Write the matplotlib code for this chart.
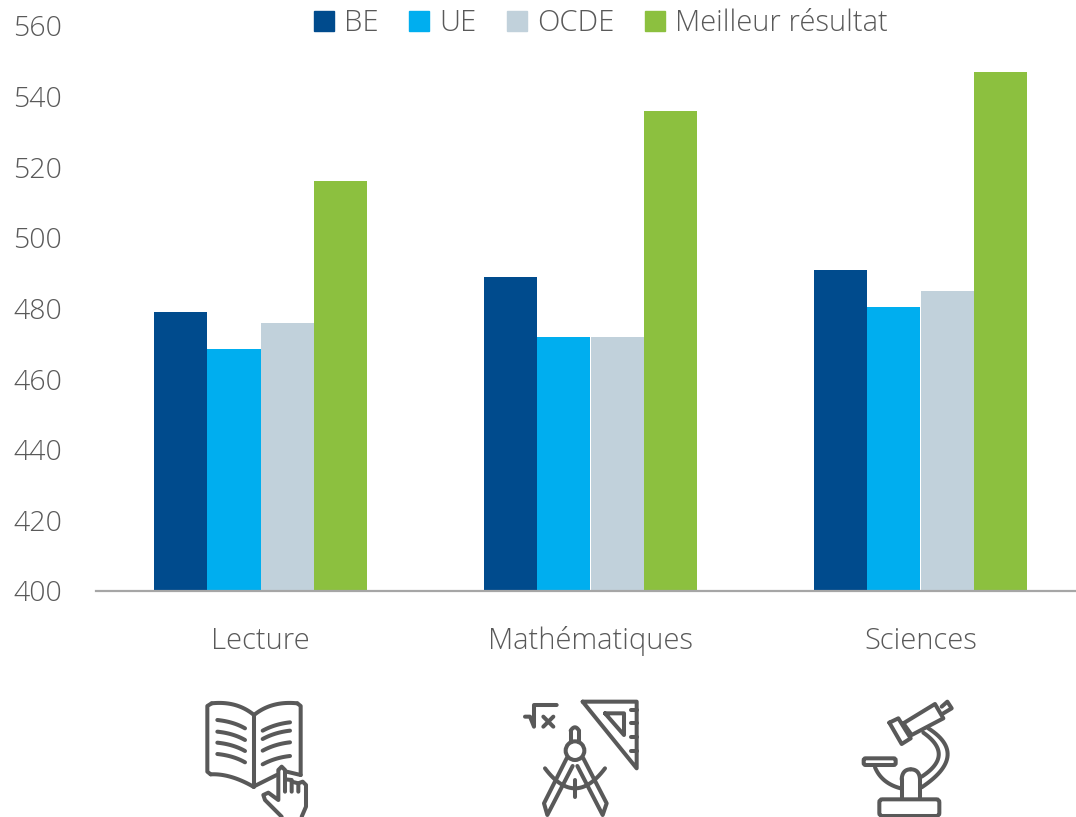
import numpy as np
import matplotlib
matplotlib.use("Agg")
import matplotlib.pyplot as plt
from matplotlib.patches import Circle, FancyBboxPatch, Patch

plt.rcParams['font.family'] = ['Open Sans', 'DejaVu Sans']

categories = ['Lecture', 'Mathématiques', 'Sciences']
be = [479, 489, 491]
ue = [468.5, 472, 480.5]
ocde = [476, 472, 485]
best = [516, 536, 547]
series_names = ['BE', 'UE', 'OCDE', 'Meilleur résultat']
colors = ['#004b8d', '#00aeef', '#c1d1db', '#8cc03f']
grey = '#595959'

W, H = 1076, 817
fig = plt.figure(figsize=(W / 100, H / 100), dpi=100)
ax = fig.add_axes([95.5 / W, 1 - 591 / H, (W - 95.5) / W, 565 / H])

x = np.arange(3)
bw = 0.1615
for i, vals in enumerate([be, ue, ocde, best]):
    ax.bar(x + (i - 1.5) * bw, vals, bw, bottom=0, color=colors[i])

ax.set_ylim(400, 560)
ax.set_xlim(-0.5, (W - 95.5) / 330 - 0.5)
ax.set_yticks(range(400, 561, 20))
ax.set_xticks(x, categories)
ax.tick_params(axis='y', length=0, pad=24, labelsize=20.5, labelcolor=grey)
ax.tick_params(axis='x', length=0, pad=25.3, labelsize=21, labelcolor=grey)
for lab in ax.get_xticklabels() + ax.get_yticklabels():
    lab.set_fontweight('light')
for s in ['top', 'right', 'left']:
    ax.spines[s].set_visible(False)
ax.spines['bottom'].set_color('#a6a6a6')
ax.spines['bottom'].set_linewidth(1.6)

handles = [Patch(color=c) for c in colors]
leg = fig.legend(handles, series_names, loc='center', bbox_to_anchor=(601 / W, 1 - 23 / H),
                 ncol=4, frameon=False, labelcolor=grey,
                 handlelength=0.68, handleheight=0.68, handletextpad=0.35, columnspacing=1.05,
                 prop={'size': 21, 'weight': 'light'})

# icons, drawn in pixel coordinates on a full figure overlay
ov = fig.add_axes([0, 0, 1, 1])
ov.set_xlim(0, W)
ov.set_ylim(H, 0)
ov.axis('off')
lw = 2.9


def pl(ox, oy, pts, close=False):
    p = np.array(pts, float) / 3 + [ox, oy]
    if close:
        p = np.vstack([p, p[:1]])
    ov.plot(p[:, 0], p[:, 1], color=grey, lw=lw, solid_capstyle='round', solid_joinstyle='round')


def cv(ox, oy, a, c, b):
    t = np.linspace(0, 1, 30)[:, None]
    a, c, b = [np.array(q, float) for q in (a, c, b)]
    pl(ox, oy, (1 - t) ** 2 * a + 2 * t * (1 - t) * c + t ** 2 * b)


# book
ox, oy = 180, 680
cv(ox, oy, (222, 105), (170, 62), (95, 70))
pl(ox, oy, [(95, 70), (82, 78), (82, 275), (92, 283)])
cv(ox, oy, (92, 283), (150, 280), (220, 320))
cv(ox, oy, (222, 105), (275, 62), (352, 70))
pl(ox, oy, [(352, 70), (362, 78), (362, 285)])
pl(ox, oy, [(222, 105), (222, 320)])
pl(ox, oy, [(220, 320), (290, 285)])
pl(ox, oy, [(320, 275), (362, 285)])
for y in [120, 155, 188, 222]:
    cv(ox, oy, (112, y), (160, y + 5), (195, y + 25))
for y in [127, 152, 187, 228]:
    cv(ox, oy, (330, y), (285, y + 5), (248, y + 25))
pl(ox, oy, [(305, 410), (255, 360), (250, 345), (265, 338), (295, 360), (295, 270),
            (305, 260), (315, 270), (315, 335)])
pl(ox, oy, [(315, 298), (335, 300), (335, 335)])
pl(ox, oy, [(335, 305), (355, 310), (355, 335)])
pl(ox, oy, [(355, 310), (368, 305), (378, 315), (378, 380), (365, 410)])

# compass and set square
ox, oy = 510, 680
pl(ox, oy, [(218, 65), (380, 65), (380, 265)], close=True)
pl(ox, oy, [(285, 100), (342, 100), (342, 165)], close=True)
for y in [90, 130, 172, 212]:
    pl(ox, oy, [(362, y), (380, y)])
pl(ox, oy, [(45, 110), (60, 110), (72, 140), (72, 75), (140, 75)])
pl(ox, oy, [(100, 110), (130, 140)])
pl(ox, oy, [(130, 110), (100, 140)])
ov.add_patch(Circle((ox + 195 / 3, oy + 212 / 3), 28 / 3, fill=False, ec=grey, lw=lw))
pl(ox, oy, [(182, 185), (182, 152)])
cv(ox, oy, (182, 152), (195, 132), (207, 152))
pl(ox, oy, [(207, 152), (207, 185)])
pl(ox, oy, [(170, 235), (102, 370), (112, 405), (188, 258)])
pl(ox, oy, [(220, 235), (290, 370), (278, 405), (202, 258)])
cv(ox, oy, (105, 265), (195, 385), (285, 265))
pl(ox, oy, [(195, 300), (195, 350)])

# microscope
ox, oy = 840, 680
pl(ox, oy, [(305, 80), (322, 65), (335, 85), (310, 100)])
pl(ox, oy, [(190, 130), (285, 72), (310, 115), (215, 165)], close=True)
pl(ox, oy, [(148, 128), (175, 115), (212, 175), (185, 192)], close=True)
cv(ox, oy, (265, 145), (390, 225), (245, 322))
cv(ox, oy, (250, 158), (345, 225), (245, 290))
ov.add_patch(FancyBboxPatch((ox + 71 / 3, oy + 235 / 3), 96 / 3, 20 / 3, boxstyle='round,pad=0,rounding_size=2',
                            fill=False, ec=grey, lw=lw))
cv(ox, oy, (105, 262), (125, 310), (182, 325))
pl(ox, oy, [(185, 355), (185, 298)])
cv(ox, oy, (185, 298), (187, 268), (212, 268))
cv(ox, oy, (212, 268), (238, 268), (240, 298))
pl(ox, oy, [(240, 298), (240, 355)])
ov.add_patch(FancyBboxPatch((ox + 118 / 3, oy + 358 / 3), 180 / 3, 50 / 3, boxstyle='round,pad=0,rounding_size=3',
                            fill=False, ec=grey, lw=lw))

fig.savefig('out.png', dpi=100)
